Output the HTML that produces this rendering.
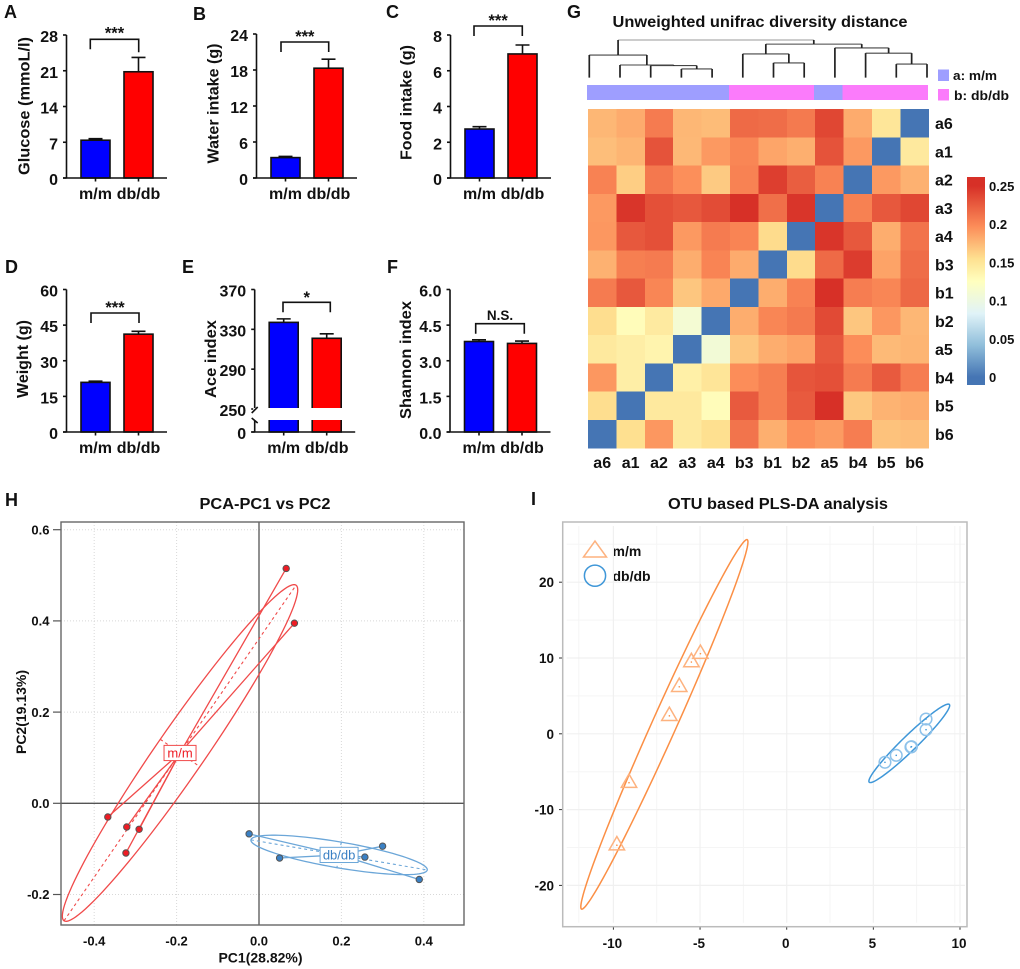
<!DOCTYPE html>
<html lang="en">
<head>
<meta charset="utf-8">
<title>Diabetic mouse phenotype and gut microbiota diversity figure</title>
<style>
html,body{margin:0;padding:0;background:#fff;}
svg{display:block;font-family:"Liberation Sans",Arial,sans-serif;}
text{fill:#111;font-weight:bold;}
.panel-letter{font-size:18px;}
.ytitle{font-size:15.5px;text-anchor:middle;}
.heading{font-size:16px;text-anchor:middle;}
</style>
</head>
<body>
<svg id="figure" xmlns="http://www.w3.org/2000/svg" width="1020" height="969" viewBox="0 0 1020 969">
  <rect x="0" y="0" width="1020" height="969" fill="#fff"/>
  <defs><linearGradient id="colorbar-gradient" x1="0" y1="0" x2="0" y2="1"></linearGradient></defs>

  <text class="panel-letter" x="4" y="18">A</text>
  <text class="panel-letter" x="193" y="20">B</text>
  <text class="panel-letter" x="386" y="18">C</text>
  <text class="panel-letter" x="5" y="273">D</text>
  <text class="panel-letter" x="182" y="273">E</text>
  <text class="panel-letter" x="387" y="273">F</text>
  <text class="panel-letter" x="567" y="18">G</text>
  <text class="panel-letter" x="5" y="506">H</text>
  <text class="panel-letter" x="531" y="505">I</text>

  <g id="panel-a">
    <text class="ytitle" transform="translate(29.5,106) rotate(-90)" textLength="138" lengthAdjust="spacingAndGlyphs">Glucose (mmoL/l)</text>
  </g>
  <g id="panel-b">
    <text class="ytitle" transform="translate(218.5,103.5) rotate(-90)" textLength="120" lengthAdjust="spacingAndGlyphs">Water intake (g)</text>
  </g>
  <g id="panel-c">
    <text class="ytitle" transform="translate(411.5,102.5) rotate(-90)" textLength="115" lengthAdjust="spacingAndGlyphs">Food intake (g)</text>
  </g>
  <g id="panel-d">
    <text class="ytitle" transform="translate(28,359) rotate(-90)" textLength="78" lengthAdjust="spacingAndGlyphs">Weight (g)</text>
  </g>
  <g id="panel-e">
    <text class="ytitle" transform="translate(216,359) rotate(-90)" textLength="78" lengthAdjust="spacingAndGlyphs">Ace index</text>
  </g>
  <g id="panel-f">
    <text class="ytitle" transform="translate(411,360) rotate(-90)" textLength="118" lengthAdjust="spacingAndGlyphs">Shannon index</text>
  </g>

  <g id="panel-g">
    <text class="heading" x="760" y="27" textLength="295" lengthAdjust="spacingAndGlyphs">Unweighted unifrac diversity distance</text>
    <rect x="938" y="69.5" width="11" height="11.5" fill="#9e9eff"/>
    <text x="953" y="80" font-size="13" textLength="44" lengthAdjust="spacingAndGlyphs">a: m/m</text>
    <rect x="938" y="89" width="11" height="11.5" fill="#fb7bfb"/>
    <text x="954" y="100" font-size="13" textLength="55" lengthAdjust="spacingAndGlyphs">b: db/db</text>
    <rect x="967" y="177" width="18" height="208" fill="url(#colorbar-gradient)"/>
  </g>

  <g id="panel-h">
    <text class="heading" x="265" y="509" textLength="131" lengthAdjust="spacingAndGlyphs">PCA-PC1 vs PC2</text>
    <text x="260.5" y="962.5" font-size="14" text-anchor="middle">PC1(28.82%)</text>
    <text transform="translate(26,712) rotate(-90)" font-size="14" text-anchor="middle">PC2(19.13%)</text>
  </g>

  <g id="panel-i">
    <text class="heading" x="778" y="509" textLength="220" lengthAdjust="spacingAndGlyphs">OTU based PLS-DA analysis</text>
    <text x="612.5" y="556" font-size="14">m/m</text>
    <text x="612.5" y="581" font-size="14">db/db</text>
  </g>
</svg>

<script>
/* ---------- bar chart data ---------- */
const barCategories = ['m/m', 'db/db'];
const glucoseMeans = [7.4, 20.8];
const glucoseErrors = [0.3, 2.8];
const glucoseTicks = [0, 7, 14, 21, 28];
const waterMeans = [3.4, 18.3];
const waterErrors = [0.2, 1.5];
const waterTicks = [0, 6, 12, 18, 24];
const foodMeans = [2.74, 6.94];
const foodErrors = [0.13, 0.5];
const foodTicks = [0, 2, 4, 6, 8];
const weightMeans = [20.9, 41.2];
const weightErrors = [0.5, 1.2];
const weightTicks = [0, 15, 30, 45, 60];
const aceMeans = [337, 321];
const aceErrors = [3.5, 4.5];
const aceTicks = [0, 250, 290, 330, 370];
const shannonMeans = [3.81, 3.73];
const shannonErrors = [0.07, 0.1];
const shannonTicks = ['0.0', '1.5', '3.0', '4.5', '6.0'];

/* ---------- heatmap data ---------- */
const heatmapColumns = ['a6','a1','a2','a3','a4','b3','b1','b2','a5','b4','b5','b6'];
const heatmapRows = ['a6','a1','a2','a3','a4','b3','b1','b2','a5','b4','b5','b6'];
const distanceMatrix = [
  [.176,.182,.207,.176,.173,.217,.215,.208,.237,.182,.149,0],
  [.172,.177,.230,.175,.191,.201,.185,.180,.230,.191,0,.146],
  [.203,.164,.209,.196,.166,.203,.242,.224,.203,0,.191,.179],
  [.191,.247,.232,.227,.234,.256,.214,.247,0,.204,.227,.237],
  [.192,.227,.232,.191,.207,.202,.157,0,.247,.227,.181,.212],
  [.179,.205,.207,.181,.202,.182,0,.157,.217,.243,.186,.215],
  [.207,.227,.201,.168,.183,0,.181,.203,.252,.206,.201,.218],
  [.156,.128,.145,.110,0,.181,.201,.208,.235,.168,.192,.176],
  [.146,.141,.136,0,.108,.168,.181,.186,.227,.197,.174,.177],
  [.192,.141,0,.140,.150,.197,.205,.229,.232,.207,.226,.206],
  [.156,0,.146,.146,.128,.226,.205,.226,.250,.167,.178,.181],
  [0,.155,.192,.146,.155,.211,.180,.196,.190,.206,.170,.172]
];
const colorbarTicks = ['0', '0.05', '0.1', '0.15', '0.2', '0.25'];
const colorbarTickValues = [0, 0.05, 0.1, 0.15, 0.2, 0.25];
const colorStopValues = [0, 0.042, 0.083, 0.125, 0.155, 0.197, 0.25];
const colorStopColors = ['#4575b4','#91bfdb','#e0f3f8','#ffffbf','#fee090','#fc8d59','#d73027'];
/* dendrogram: [height, left child, right child]; a bare number is a leaf index */
const dendrogramTree = [1,
  [.6, 0, [.335, 1, [.32, 2, [.23, 3, 4]]]],
  [.89,
    [.63, 5, [.39, 6, 7]],
    [.79, 8, [.65, 9, [.36, 10, 11]]]
  ]
];

/* ---------- PCA data ---------- */
const pcaTicksX = [-0.4, -0.2, 0, 0.2, 0.4];
const pcaTicksY = [-0.2, 0, 0.2, 0.4, 0.6];
const pcaMmX = [0.066, 0.086, -0.367, -0.321, -0.291, -0.323];
const pcaMmY = [0.515, 0.395, -0.03, -0.052, -0.057, -0.109];
const pcaDbX = [-0.024, 0.05, 0.30, 0.257, 0.389];
const pcaDbY = [-0.067, -0.12, -0.094, -0.118, -0.167];
const pcaMmMajor = [0.2816, 0.368];
const pcaMmMinor = [0.048, -0.03];
const pcaDbMajor = [0.214, -0.033];
const pcaDbMinor = [-0.0053, -0.028];

/* ---------- PLS-DA data ---------- */
const plsTicksX = [-10, -5, 0, 5, 10];
const plsTicksY = [-20, -10, 0, 10, 20];
const plsMinorX = [-7.5, -2.5, 2.5, 7.5, -12, 9.7];
const plsMinorY = [-15, -5, 5, 15, 25];
const plsMmX = [-4.98, -5.5, -6.2, -6.77, -9.1, -9.8];
const plsMmY = [10.57, 9.47, 6.2, 2.37, -6.45, -14.7];
const plsDbX = [8.04, 8.04, 7.17, 7.2, 6.32, 5.67];
const plsDbY = [1.95, 0.54, -1.74, -1.7, -2.84, -3.76];
const plsMmMajor = [4.78, 24.37];
const plsMmMinor = [0.64, -0.66];
const plsDbMajor = [2.31, 5.13];
const plsDbMinor = [0.31, -0.69];

/* ---------- helpers ---------- */
const SVG_NS = 'http://www.w3.org/2000/svg';
function make(tag, parent, attrs, text) {
  const node = document.createElementNS(SVG_NS, tag);
  for (const key in attrs) node.setAttribute(key, attrs[key]);
  if (text !== undefined) node.textContent = text;
  parent.appendChild(node);
  return node;
}
function mean(list) { return list.reduce(function (a, b) { return a + b; }, 0) / list.length; }
function slug(s) { return String(s).replace(/[^a-zA-Z0-9]+/g, '-').replace(/^-|-$/g, '').toLowerCase(); }

/* ---------- bar panels ---------- */
function drawBarPanel(id, o) {
  const g = document.getElementById(id);
  const y = o.scale;
  const bottom = y(0);
  const end = o.axisX + 100.5;
  const barX = [o.axisX + 14.5, o.axisX + 57.5];
  const colors = ['#0000ff', '#ff0000'];
  const sw = 1.6;
  o.means.forEach(function (m, i) {
    const top = y(m);
    const errTop = y(m + o.errors[i]);
    const cx = barX[i] + 14.5;
    const err = make('path', g, {d: 'M' + cx + ' ' + top + 'V' + errTop + 'M' + (cx - 7) + ' ' + errTop + 'H' + (cx + 7), fill: 'none', stroke: '#111', 'stroke-width': sw});
    
    
    const bar = make('rect', g, {x: barX[i], y: top, width: 29, height: bottom - top, fill: colors[i], stroke: '#111', 'stroke-width': sw});
    
    
    const tick = make('line', g, {x1: cx, x2: cx, y1: bottom, y2: bottom + 3.5, stroke: '#111', 'stroke-width': sw});
    
    
    const label = make('text', g, {x: cx, y: bottom + 21, 'text-anchor': 'middle', 'font-size': 16}, barCategories[i]);
    
    
  });
  const axis = make('path', g, {d: 'M' + o.axisX + ' ' + y(o.axisMax) + 'V' + bottom + 'M' + (o.axisX - 3.5) + ' ' + bottom + 'H' + end, fill: 'none', stroke: '#111', 'stroke-width': sw});
  
  
  o.ticks.forEach(function (t) {
    const v = parseFloat(t);
    const tick = make('line', g, {x1: o.axisX - 3.5, x2: o.axisX, y1: y(v), y2: y(v), stroke: '#111', 'stroke-width': sw});
    
    
    const label = make('text', g, {x: o.axisX - 8.5, y: y(v) + 7, 'text-anchor': 'end', 'font-size': 16}, t);
    
    
  });
  if (o.broken) {
    const gap = make('rect', g, {x: o.axisX - 1.5, y: 408, width: 92, height: 12, fill: '#fff'});
    
    
    const slashes = make('path', g, {d: 'M' + (o.axisX - 3) + ' 413L' + (o.axisX + 3) + ' 407M' + (o.axisX - 3) + ' 418L' + (o.axisX + 3) + ' 423', fill: 'none', stroke: '#111', 'stroke-width': sw});
    
    
  }
  const b = o.bracket;
  const br = make('path', g, {d: 'M' + b[0] + ' ' + (b[2] + 10) + 'V' + b[2] + 'H' + b[1] + 'V' + (b[2] + 10 + (b[4] || 0)), fill: 'none', stroke: '#111', 'stroke-width': sw});
  
  
  const isNs = o.mark === 'N.S.';
  const star = make('text', g, {x: (b[0] + b[1]) / 2, y: b[3], 'text-anchor': 'middle', 'font-size': isNs ? 13.5 : 16.5}, o.mark);
  
  
}
function linearScale(bottom, top, max) {
  return function (v) { return bottom - v / max * (bottom - top); };
}
drawBarPanel('panel-a', {axisX: 66.5, axisMax: 28, means: glucoseMeans, errors: glucoseErrors, ticks: glucoseTicks, scale: linearScale(178, 35, 28), bracket: [90.3, 138.7, 39.3, 38.5, 3], mark: '***'});
drawBarPanel('panel-b', {axisX: 256.5, axisMax: 24, means: waterMeans, errors: waterErrors, ticks: waterTicks, scale: linearScale(178, 34, 24), bracket: [281, 328.7, 42, 42, 0], mark: '***'});
drawBarPanel('panel-c', {axisX: 450.5, axisMax: 8, means: foodMeans, errors: foodErrors, ticks: foodTicks, scale: linearScale(178, 35, 8), bracket: [474, 522.3, 26, 26, 0], mark: '***'});
drawBarPanel('panel-d', {axisX: 66.5, axisMax: 60, means: weightMeans, errors: weightErrors, ticks: weightTicks, scale: linearScale(432, 289.5, 60), bracket: [91, 139, 313, 313, 0], mark: '***'});
drawBarPanel('panel-e', {axisX: 254.7, axisMax: 370, means: aceMeans, errors: aceErrors, ticks: aceTicks, broken: true,
  scale: function (v) { return v < 250 ? 432 - v / 250 * 23 : 409 - (v - 250) * (119.5 / 120); },
  bracket: [283, 330.3, 302.3, 303, 0], mark: '*'});
drawBarPanel('panel-f', {axisX: 450, axisMax: 6, means: shannonMeans, errors: shannonErrors, ticks: shannonTicks, scale: linearScale(432, 289.5, 6), bracket: [475.7, 524.3, 323.7, 320, 0], mark: 'N.S.'});

/* ---------- heatmap ---------- */
function hexToRgb(h) { return [1, 3, 5].map(function (i) { return parseInt(h.substr(i, 2), 16); }); }
function heatColor(v) {
  const n = colorStopValues.length;
  if (v <= colorStopValues[0]) return colorStopColors[0];
  if (v >= colorStopValues[n - 1]) return colorStopColors[n - 1];
  for (let i = 1; i < n; i++) {
    if (v <= colorStopValues[i]) {
      const t = (v - colorStopValues[i - 1]) / (colorStopValues[i] - colorStopValues[i - 1]);
      const a = hexToRgb(colorStopColors[i - 1]);
      const b = hexToRgb(colorStopColors[i]);
      return 'rgb(' + a.map(function (c, k) { return Math.round(c + (b[k] - c) * t); }).join(',') + ')';
    }
  }
}
(function drawHeatmap() {
  const g = document.getElementById('panel-g');
  const cell = 28.4, cellH = 28.25, left = 588, top = 109;
  heatmapRows.forEach(function (rowName, r) {
    distanceMatrix[r].forEach(function (v, c) {
      const rect = make('rect', g, {x: left + c * cell, y: top + r * cellH, width: cell + 0.4, height: cellH + 0.4, fill: heatColor(v), 'shape-rendering': 'crispEdges'});
      
      
    });
    const label = make('text', g, {x: 935, y: top + r * cellH + cellH / 2 + 6, 'font-size': 16}, rowName);
    
    
  });
  heatmapColumns.forEach(function (name, c) {
    const label = make('text', g, {x: left + c * cell + cell / 2, y: 468, 'text-anchor': 'middle', 'font-size': 16}, name);
    
    
    const ann = make('rect', g, {x: left - 1 + c * cell, y: 85, width: cell + 0.4, height: 15, fill: name.charAt(0) === 'a' ? '#9e9eff' : '#fb7bfb', 'shape-rendering': 'crispEdges'});
    
    
  });
  /* dendrogram */
  const leafX = function (i) { return 589.3 + i * 30.7; };
  const treeY = function (h) { return 77.6 - h * 37.6; };
  function drawNode(node) {
    if (typeof node === 'number') return {x: leafX(node), y: 77.6};
    const a = drawNode(node[1]);
    const b = drawNode(node[2]);
    const yy = treeY(node[0]);
    const isRoot = node[0] === 1;
    const across = make('line', g, {x1: a.x, x2: b.x, y1: yy, y2: yy, stroke: isRoot ? '#999' : '#444', 'stroke-width': 1.1});
    
    
    const drops = make('path', g, {d: 'M' + a.x + ' ' + yy + 'V' + a.y + 'M' + b.x + ' ' + yy + 'V' + b.y, fill: 'none', stroke: '#222', 'stroke-width': 1.7});
    
    
    return {x: (a.x + b.x) / 2, y: yy};
  }
  drawNode(dendrogramTree);
  /* colorbar */
  const barY = function (v) { return 377 - v * 764; };
  const grad = document.getElementById('colorbar-gradient');
  for (let i = colorStopValues.length - 1; i >= 0; i--) {
    make('stop', grad, {offset: (barY(colorStopValues[i]) - 177) / 208, 'stop-color': colorStopColors[i]});
  }
  colorbarTicks.forEach(function (t, i) {
    const label = make('text', g, {x: 989, y: barY(colorbarTickValues[i]) + 5, 'font-size': 13}, t);
    
    
  });
})();

/* ---------- scatter helpers ---------- */
function ellipsePath(cx, cy, major, minor, sx, sy) {
  let d = '';
  for (let i = 0; i <= 120; i++) {
    const t = i / 120 * 2 * Math.PI;
    const px = sx(cx + Math.cos(t) * major[0] + Math.sin(t) * minor[0]);
    const py = sy(cy + Math.cos(t) * major[1] + Math.sin(t) * minor[1]);
    d += (i ? 'L' : 'M') + px.toFixed(2) + ' ' + py.toFixed(2);
  }
  return d + 'Z';
}

/* ---------- PCA ---------- */
(function drawPca() {
  const g = document.getElementById('panel-h');
  const sx = function (v) { return 259 + 412 * v; };
  const sy = function (v) { return 803.3 - 456 * v; };
  const frame = [61, 464, 522, 925];
  pcaTicksX.forEach(function (t) {
    const grid = make('line', g, {x1: sx(t), x2: sx(t), y1: frame[2], y2: frame[3], stroke: '#d8d8d8', 'stroke-width': 1, 'stroke-dasharray': '1 2'});
    
    
    const label = make('text', g, {x: sx(t), y: 945.5, 'text-anchor': 'middle', 'font-size': 13}, t.toFixed(1));
    
    
  });
  pcaTicksY.forEach(function (t) {
    const grid = make('line', g, {x1: frame[0], x2: frame[1], y1: sy(t), y2: sy(t), stroke: '#d8d8d8', 'stroke-width': 1, 'stroke-dasharray': '1 2'});
    
    
    const tick = make('line', g, {x1: 53, x2: frame[0], y1: sy(t), y2: sy(t), stroke: '#555', 'stroke-width': 1.2});
    
    
    const label = make('text', g, {x: 49.5, y: sy(t) + 4.7, 'text-anchor': 'end', 'font-size': 13}, t.toFixed(1));
    
    
  });
  const zeroV = make('line', g, {x1: sx(0), x2: sx(0), y1: frame[2], y2: frame[3], stroke: '#555', 'stroke-width': 1.3});
  
  
  const zeroH = make('line', g, {x1: frame[0], x2: frame[1], y1: sy(0), y2: sy(0), stroke: '#555', 'stroke-width': 1.3});
  
  
  const box = make('rect', g, {x: frame[0], y: frame[2], width: frame[1] - frame[0], height: frame[3] - frame[2], fill: 'none', stroke: '#666', 'stroke-width': 1.4});
  
  

  function group(name, xs, ys, major, minor, line, fill, labelText, halfW) {
    const cx = mean(xs), cy = mean(ys);
    const ell = make('path', g, {d: ellipsePath(cx, cy, major, minor, sx, sy), fill: 'none', stroke: line, 'stroke-width': 1.3});
    
    
    const axes = make('path', g, {
      d: 'M' + sx(cx - major[0]) + ' ' + sy(cy - major[1]) + 'L' + sx(cx + major[0]) + ' ' + sy(cy + major[1]) +
         'M' + sx(cx - minor[0]) + ' ' + sy(cy - minor[1]) + 'L' + sx(cx + minor[0]) + ' ' + sy(cy + minor[1]),
      fill: 'none', stroke: line, 'stroke-width': 1.1, 'stroke-dasharray': '3 3'});
    
    
    xs.forEach(function (x, i) {
      const spoke = make('line', g, {x1: sx(cx), y1: sy(cy), x2: sx(x), y2: sy(ys[i]), stroke: line, 'stroke-width': 1.3});
      
      
    });
    xs.forEach(function (x, i) {
      const pt = make('circle', g, {cx: sx(x), cy: sy(ys[i]), r: 3.2, fill: fill, stroke: '#555', 'stroke-width': 1});
      
      
    });
    const tag = make('rect', g, {x: sx(cx) - halfW, y: sy(cy) - 7.6, width: halfW * 2, height: 15.2, fill: '#fff', stroke: line, 'stroke-width': 1});
    
    
    const text = make('text', g, {x: sx(cx), y: sy(cy) + 4.6, 'text-anchor': 'middle', 'font-size': 13, style: 'font-weight:normal;fill:' + fill}, labelText);
    
    
  }
  group('m-m', pcaMmX, pcaMmY, pcaMmMajor, pcaMmMinor, '#f04a4a', '#ee1c24', 'm/m', 16);
  group('db-db', pcaDbX, pcaDbY, pcaDbMajor, pcaDbMinor, '#6ba6d8', '#3a80c4', 'db/db', 19);
})();

/* ---------- PLS-DA ---------- */
(function drawPls() {
  const g = document.getElementById('panel-i');
  const sx = function (v) { return 786.7 + 17.33 * v; };
  const sy = function (v) { return 733.8 - 7.58 * v; };
  const frame = [562.7, 967, 522, 926.7];
  plsMinorX.forEach(function (t) {
    const grid = make('line', g, {x1: sx(t), x2: sx(t), y1: frame[2] + 4, y2: frame[3] - 4, stroke: '#f5f5f5', 'stroke-width': 1});
    
    
  });
  plsMinorY.forEach(function (t) {
    const grid = make('line', g, {x1: frame[0] + 4, x2: frame[1] - 2, y1: sy(t), y2: sy(t), stroke: '#f5f5f5', 'stroke-width': 1});
    
    
  });
  plsTicksX.forEach(function (t) {
    const grid = make('line', g, {x1: sx(t), x2: sx(t), y1: frame[2] + 4, y2: frame[3] - 4, stroke: '#f0f0f0', 'stroke-width': 1.2});
    
    
    const tick = make('line', g, {x1: sx(t), x2: sx(t), y1: frame[3], y2: frame[3] + 3, stroke: '#333', 'stroke-width': 1});
    
    
    const label = make('text', g, {x: sx(t) - 1, y: 948, 'text-anchor': 'middle', 'font-size': 13.5}, t);
    
    
  });
  plsTicksY.forEach(function (t) {
    const grid = make('line', g, {x1: frame[0] + 4, x2: frame[1] - 2, y1: sy(t), y2: sy(t), stroke: '#f0f0f0', 'stroke-width': 1.2});
    
    
    const tick = make('line', g, {x1: 559, x2: frame[0], y1: sy(t), y2: sy(t), stroke: '#333', 'stroke-width': 1});
    
    
    const label = make('text', g, {x: 554, y: sy(t) + 5, 'text-anchor': 'end', 'font-size': 13.5}, t);
    
    
  });
  const box = make('rect', g, {x: frame[0], y: frame[2], width: frame[1] - frame[0], height: frame[3] - frame[2], fill: 'none', stroke: '#bbb', 'stroke-width': 1.5});
  
  

  const orange = '#fb8f45', orangeLight = '#fdb27f', blue = '#3f97d8', blueLight = '#8ec2ea';
  const mmEll = make('path', g, {d: ellipsePath(mean(plsMmX), mean(plsMmY), plsMmMajor, plsMmMinor, sx, sy), fill: 'none', stroke: orange, 'stroke-width': 1.5});
  
  
  const dbEll = make('path', g, {d: ellipsePath(mean(plsDbX), mean(plsDbY), plsDbMajor, plsDbMinor, sx, sy), fill: 'none', stroke: blue, 'stroke-width': 1.5});
  
  

  plsMmX.forEach(function (x, i) {
    const px = sx(x), py = sy(plsMmY[i]);
    const tri = make('path', g, {d: 'M' + (px - 7.7) + ' ' + (py + 4.7) + 'H' + (px + 7.7) + 'L' + px + ' ' + (py - 8.7) + 'Z', fill: 'none', stroke: orangeLight, 'stroke-width': 1.5});
    
    
    const dot = make('circle', g, {cx: px, cy: py, r: 0.8, fill: orange});
    
    
  });
  plsDbX.forEach(function (x, i) {
    const px = sx(x), py = sy(plsDbY[i]);
    const c = make('circle', g, {cx: px, cy: py, r: 5.8, fill: 'none', stroke: blueLight, 'stroke-width': 1.5});
    
    
    const dot = make('circle', g, {cx: px, cy: py, r: 0.8, fill: blue});
    
    
  });
  const legendTri = make('path', g, {d: 'M583.5 557H606.5L595 541Z', fill: 'none', stroke: orangeLight, 'stroke-width': 1.5});
  
  
  const legendCircle = make('circle', g, {cx: 595, cy: 575.7, r: 10.6, fill: 'none', stroke: blue, 'stroke-width': 1.5});
  
  
})();
</script>
</body>
</html>
